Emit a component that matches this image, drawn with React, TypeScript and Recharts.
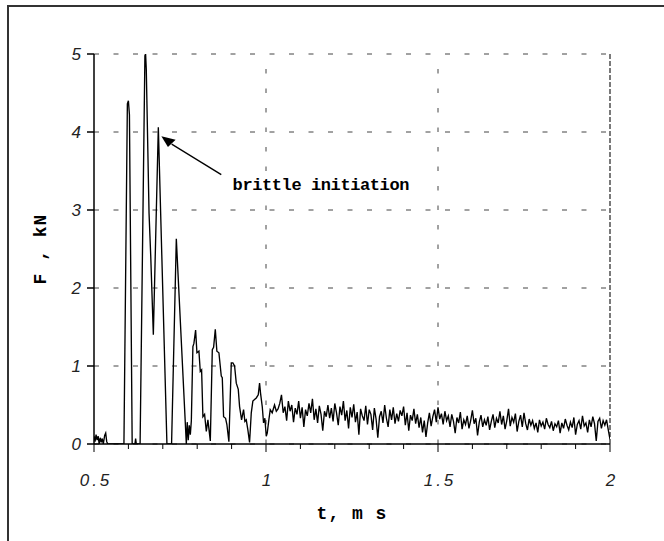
import React from "react";
import { CartesianGrid, Customized, Line, LineChart, ReferenceDot, ReferenceLine, XAxis, YAxis } from "recharts";

// impact part: irregular samples
const impactTime = [
  0.5, 0.503, 0.506, 0.509, 0.512, 0.515, 0.518, 0.521, 0.524, 0.527, 0.531, 0.534, 0.537, 0.54,
  0.587, 0.597, 0.6, 0.603, 0.611, 0.619, 0.621, 0.623, 0.634, 0.648, 0.65, 0.652, 0.66, 0.665,
  0.6725, 0.687, 0.712, 0.7255, 0.7393, 0.7684, 0.771, 0.774, 0.777, 0.78, 0.783, 0.7875, 0.7904,
  0.7954, 0.7992, 0.805, 0.809, 0.8128, 0.8166, 0.8215, 0.8265, 0.8311, 0.8381, 0.8439, 0.8477,
  0.8526, 0.8572, 0.8631, 0.87, 0.8729, 0.8767, 0.8825, 0.8863, 0.8921, 0.8991, 0.9037, 0.9087,
  0.9136, 0.9194, 0.9232, 0.929, 0.9348, 0.9386, 0.9426, 0.9473, 0.9522, 0.9572, 0.9618, 0.9667,
  0.9717, 0.9775, 0.9813, 0.9842, 0.9891, 0.9929, 0.9967, 1.0007, 1.0036, 1.0083, 1.0123, 1.018,
  1.0248, 1.03
];
const impactForce = [
  0.1, 0.03, 0.12, 0.05, 0.1, 0, 0.08, 0.02, 0.07, 0, 0.11, 0.14, 0.03, 0,
  0, 4.36, 4.4, 4.22, 0, 0, 0.07, 0, 0, 4.98, 5.0, 4.8, 2.96, 2.4,
  1.4, 4.06, 0, 0, 2.63, 0, 0.28, 0.05, 0.24, 0.12, 0.3, 1.25, 1.29,
  1.46, 1.17, 1.19, 0.93, 0.95, 0.35, 0.38, 0.16, 0.31, 0.04, 1.21, 1.24,
  1.47, 1.19, 1.17, 0.87, 0.85, 0.35, 0.33, 0.25, 0.03, 1.04, 1.04, 1.0,
  0.78, 0.7, 0.48, 0.31, 0.44, 0.29, 0.31, 0.18, 0.02, 0.4, 0.55, 0.57,
  0.59, 0.63, 0.78, 0.65, 0.48, 0.27, 0.33, 0.1, 0.14, 0.31, 0.44, 0.4,
  0.5, 0.42
];

// steady noisy tail, one sample every 0.005 ms from 1.035 ms
const noiseStart = 1.035;
const noiseStep = 0.005;
const noiseForce = [
  0.45, 0.52, 0.63, 0.4, 0.48, 0.3, 0.55, 0.42, 0.5, 0.28,
  0.46, 0.38, 0.55, 0.33, 0.47, 0.22, 0.44, 0.36, 0.52, 0.4,
  0.58, 0.31, 0.45, 0.27, 0.49, 0.38, 0.17, 0.42, 0.35, 0.5,
  0.33, 0.46, 0.29, 0.52, 0.4, 0.24, 0.48, 0.37, 0.55, 0.3,
  0.43, 0.2, 0.47, 0.34, 0.51, 0.28, 0.41, 0.12, 0.45, 0.36,
  0.3, 0.49, 0.25, 0.44, 0.38, 0.18, 0.46, 0.32, 0.08, 0.35,
  0.42, 0.27, 0.5, 0.33, 0.22, 0.44, 0.31, 0.47, 0.26, 0.39,
  0.29, 0.43, 0.36, 0.48, 0.24, 0.4, 0.17, 0.37, 0.3, 0.45,
  0.26, 0.38, 0.21, 0.34, 0.15, 0.3, 0.09, 0.27, 0.4, 0.23,
  0.35, 0.44, 0.28, 0.47, 0.32, 0.39, 0.25, 0.42, 0.3, 0.36,
  0.22, 0.38, 0.29, 0.14, 0.34, 0.27, 0.41, 0.19, 0.31, 0.25,
  0.36, 0.2, 0.3, 0.43, 0.26, 0.33, 0.11, 0.28, 0.37, 0.22,
  0.31, 0.24, 0.35, 0.18, 0.29, 0.38, 0.21, 0.33, 0.27, 0.42,
  0.25, 0.36, 0.19, 0.3, 0.45, 0.23, 0.34, 0.28, 0.39, 0.16,
  0.29, 0.37, 0.22, 0.4, 0.26, 0.18, 0.32, 0.24, 0.3, 0.2,
  0.27, 0.15, 0.31, 0.23, 0.28, 0.19, 0.33, 0.25, 0.21, 0.29,
  0.17, 0.26, 0.22, 0.3, 0.14, 0.27, 0.2, 0.32, 0.24, 0.18,
  0.28, 0.21, 0.34, 0.12, 0.25, 0.3, 0.19, 0.36, 0.23, 0.27,
  0.15, 0.31, 0.22, 0.35, 0.26, 0.04, 0.29, 0.33, 0.2, 0.3,
  0.24, 0.31, 0.18, 0.06
];

const xTicks = [0.5, 0.6, 0.7, 0.8, 0.9, 1, 1.1, 1.2, 1.3, 1.4, 1.5, 1.6, 1.7, 1.8, 1.9, 2];
const xLabelTicks = [0.5, 1, 1.5, 2];
const yTicks = [0, 1, 2, 3, 4, 5];

const arrowTip = { t: 0.6958, f: 3.944 };
const arrowTail = { t: 0.87, f: 3.454 };
const notePos = { t: 0.9029, f: 3.26 };
const noteText = "brittle initiation";

const data = [
  ...impactTime.map((t, i) => ({ t, f: impactForce[i] })),
  ...noiseForce.map((f, i) => ({ t: Math.round((noiseStart + i * noiseStep) * 10000) / 10000, f }))
];

const tickFont = "'Liberation Sans', Arial, sans-serif";
const monoFont = "'Liberation Mono', 'Courier New', monospace";

function TimeTick(props: any) {
  const { x, y, payload } = props;
  const major = xLabelTicks.includes(payload.value);
  return (
    <g>
      <line x1={x} x2={x} y1={y} y2={y + (major ? 8 : 5)} stroke="#000" strokeWidth={1} />
      {major && (
        <text
          x={x + 2}
          y={y + 42}
          textAnchor="middle"
          fontFamily={tickFont}
          fontStyle="italic"
          fontSize={17}
          letterSpacing={3}
          fill="#222"
        >
          {String(payload.value)}
        </text>
      )}
    </g>
  );
}

function ArrowHead(props: any) {
  const { cx, cy } = props;
  return <polygon points={`${cx},${cy} ${cx + 14.3},${cy + 3.3} ${cx + 6.6},${cy + 10.6}`} fill="#000" />;
}

function NoteText(props: any) {
  const { cx, cy } = props;
  return (
    <text x={cx} y={cy} fontFamily={monoFont} fontWeight="bold" fontSize={17} letterSpacing={-0.4} fill="#000">
      {noteText}
    </text>
  );
}

// outer picture frame (left and top edges only)
function Frame() {
  return (
    <g>
      <rect x={7} y={5} width={657} height={2} fill="#333" />
      <rect x={7} y={5} width={2} height={536} fill="#333" />
    </g>
  );
}

export default function App() {
  return (
    <div style={{ position: "absolute", left: 0, top: 0, width: 664, height: 541, background: "#fff" }}>
      <LineChart
        width={664}
        height={541}
        data={data}
        margin={{ top: 54, right: 54, left: 24, bottom: 17 }}
      >
        <Customized component={<Frame />} />
        <CartesianGrid vertical={false} stroke="#444" strokeDasharray="5 14.5" />
        <ReferenceLine x={1} stroke="#444" strokeDasharray="4.5 15" />
        <ReferenceLine x={1.5} stroke="#444" strokeDasharray="4.5 15" />
        <ReferenceLine x={2} stroke="#333" strokeWidth={1.3} strokeDasharray="5 2" />
        <XAxis
          dataKey="t"
          type="number"
          domain={[0.5, 2]}
          ticks={xTicks}
          interval={0}
          allowDataOverflow
          height={80}
          stroke="#000"
          strokeWidth={1.5}
          tickLine={false}
          tickSize={0}
          tickMargin={0}
          tick={<TimeTick />}
          label={{
            value: "t, m s",
            position: "center",
            dy: 29,
            fontFamily: monoFont,
            fontWeight: "bold",
            fontSize: 18,
            letterSpacing: 1,
            fill: "#000"
          }}
        />
        <YAxis
          type="number"
          domain={[0, 5]}
          ticks={yTicks}
          interval={0}
          allowDataOverflow
          width={70}
          stroke="#000"
          strokeWidth={1.5}
          tickSize={7}
          tickMargin={6}
          tick={{ fontFamily: tickFont, fontStyle: "italic", fontSize: 17, fill: "#222" }}
          label={{
            value: "F , kN",
            angle: -90,
            position: "center",
            dx: -19,
            fontFamily: monoFont,
            fontWeight: "bold",
            fontSize: 18,
            letterSpacing: 1,
            fill: "#000"
          }}
        />
        <Line
          type="linear"
          dataKey="f"
          stroke="#000"
          strokeWidth={1.35}
          dot={false}
          isAnimationActive={false}
        />
        <ReferenceLine
          segment={[
            { x: arrowTail.t, y: arrowTail.f },
            { x: arrowTip.t + 0.03, y: arrowTip.f - 0.1 }
          ]}
          stroke="#000"
          strokeWidth={1.3}
        />
        <ReferenceDot x={arrowTip.t} y={arrowTip.f} r={0} shape={<ArrowHead />} />
        <ReferenceDot x={notePos.t} y={notePos.f} r={0} shape={<NoteText />} />
      </LineChart>
    </div>
  );
}
